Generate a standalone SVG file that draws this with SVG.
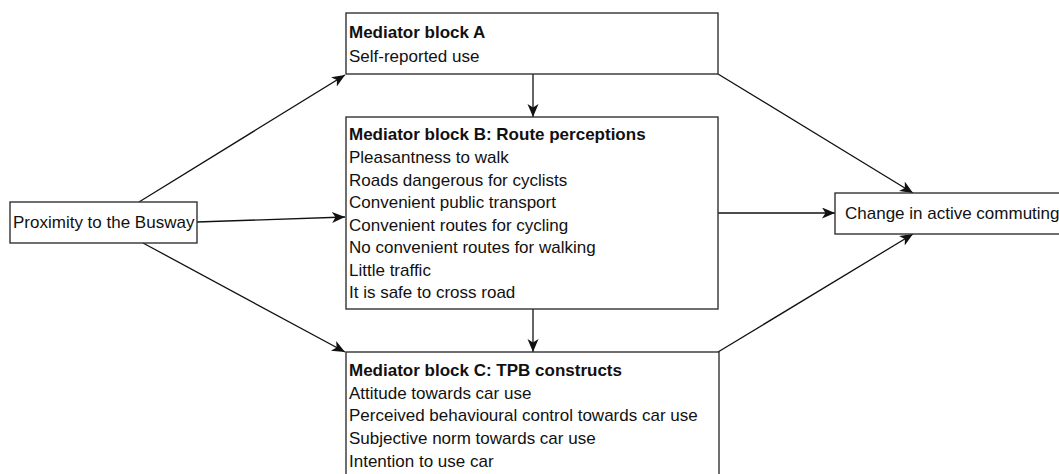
<svg xmlns="http://www.w3.org/2000/svg" width="1059" height="474" viewBox="0 0 1059 474">
<style>
.box{fill:#fff;stroke:#333;stroke-width:1.4}
.t{font-family:"Liberation Sans",Arial,sans-serif;font-size:17px;fill:#111}
.b{font-weight:bold}
.c{stroke:#111;stroke-width:1.3;fill:none;marker-end:url(#ah)}
</style>
<defs>
<marker id="ah" markerUnits="userSpaceOnUse" markerWidth="14" markerHeight="12" refX="13" refY="5.5" orient="auto">
<path d="M0,0 L13,5.5 L0,11 L3.5,5.5 z" fill="#111"/>
</marker>
</defs>
<rect width="1059" height="474" fill="#fff"/>
<g id="connectors">
<line class="c" x1="139" y1="202" x2="345" y2="75"/>
<line class="c" x1="197" y1="222" x2="345" y2="217"/>
<line class="c" x1="143" y1="243" x2="345" y2="352"/>
<line class="c" x1="533" y1="74" x2="533" y2="117"/>
<line class="c" x1="533" y1="309" x2="533" y2="352"/>
<line class="c" x1="718" y1="74" x2="913" y2="193"/>
<line class="c" x1="718" y1="213" x2="835" y2="213"/>
<line class="c" x1="718" y1="352" x2="913" y2="234"/>
</g>
<g id="proximity">
<rect class="box" x="10" y="202" width="187" height="41"/>
<text class="t" x="13" y="228">Proximity to the Busway</text>
</g>
<g id="blockA">
<rect class="box" x="346" y="13" width="372" height="61"/>
<text class="t b" x="349" y="38">Mediator block A</text>
<text class="t" x="349" y="62">Self-reported use</text>
</g>
<g id="blockB">
<rect class="box" x="346" y="117" width="372" height="192"/>
<text class="t b" x="349" y="140">Mediator block B: Route perceptions</text>
<text class="t" x="349" y="163">Pleasantness to walk</text>
<text class="t" x="349" y="186">Roads dangerous for cyclists</text>
<text class="t" x="349" y="208">Convenient public transport</text>
<text class="t" x="349" y="231">Convenient routes for cycling</text>
<text class="t" x="349" y="253">No convenient routes for walking</text>
<text class="t" x="349" y="276">Little traffic</text>
<text class="t" x="349" y="298">It is safe to cross road</text>
</g>
<g id="blockC">
<rect class="box" x="346" y="352" width="373" height="140"/>
<text class="t b" x="349" y="376">Mediator block C: TPB constructs</text>
<text class="t" x="349" y="399">Attitude towards car use</text>
<text class="t" x="349" y="421">Perceived behavioural control towards car use</text>
<text class="t" x="349" y="444">Subjective norm towards car use</text>
<text class="t" x="349" y="467">Intention to use car</text>
</g>
<g id="change">
<rect class="box" x="835" y="193" width="230" height="41"/>
<text class="t" x="845" y="219">Change in active commuting</text>
</g>
</svg>
